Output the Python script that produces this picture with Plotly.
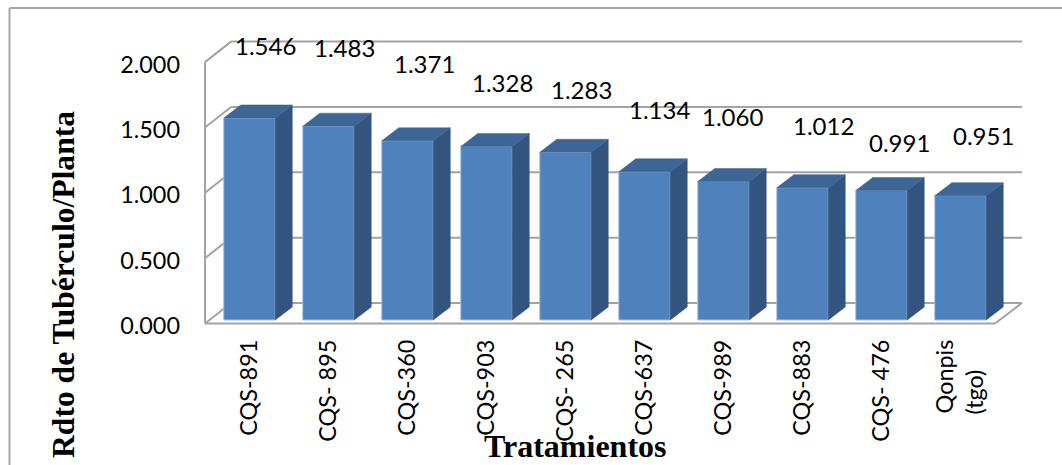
import plotly.graph_objects as go

# Yield per plant for each treatment
categories = ["CQS-891", "CQS- 895", "CQS-360", "CQS-903", "CQS- 265",
              "CQS-637", "CQS-989", "CQS-883", "CQS- 476", "Qonpis<br>(tgo)\u00a0\u00a0\u00a0\u00a0\u00a0"]
values = [1.546, 1.483, 1.371, 1.328, 1.283, 1.134, 1.060, 1.012, 0.991, 0.951]
y_ticks = [0.0, 0.5, 1.0, 1.5, 2.0]

# Hand-placed value labels: pixel shift from the top of each bar
label_dx = [16, 16, 17, 16, 16, 15, 9, 21, 18, 23]
label_dy = [72, 79, 77, 64, 63, 62, 65, 62, 48, 60]

# Layout of the plot area and the pseudo-3D projection, in data units
WIDTH, HEIGHT = 1062, 465
PX_X, PX_Y = 79.0, 130.7         # pixels per category / per unit
LEFT, RIGHT, TOP, BOTTOM = 195, 1032, 30, 330
ORIGIN_X, ORIGIN_Y = 249.5, 320  # pixel position of category 0, value 0
BAR_W = 0.652
DEPTH_X, DEPTH_Y = 17 / PX_X, 13 / PX_Y
WALL_FRONT_Y, WALL_BACK_Y = -0.027, 0.13
WALL_X0, WALL_X1 = -0.5633, 9.437
WALL_BACK_X0, WALL_BACK_X1 = -0.234, 9.7785

FONT = "Lato"
SERIF = "Liberation Serif"
GRID = "#a3a3a3"
FRONT, SIDE, ROOF = "#4f81bd", "#32547f", "#3d6595"

xs = list(range(len(values)))

fig = go.Figure()
fig.add_bar(x=xs, y=values, width=BAR_W,
            marker=dict(color=FRONT, line=dict(color="#a9c0de", width=1)),
            hoverinfo="skip", showlegend=False)


def faces(points_for):
    """Join per-bar polygons into one fillable outline list."""
    px, py = [], []
    for i, v in zip(xs, values):
        pts = points_for(i, v)
        px += [p[0] for p in pts] + [None]
        py += [p[1] for p in pts] + [None]
    return px, py


def side(i, v):
    r = i + BAR_W / 2
    return [(r, 0), (r + DEPTH_X, DEPTH_Y), (r + DEPTH_X, v + DEPTH_Y), (r, v), (r, 0)]


def roof(i, v):
    l, r = i - BAR_W / 2, i + BAR_W / 2
    return [(l, v), (l + DEPTH_X, v + DEPTH_Y), (r + DEPTH_X, v + DEPTH_Y), (r, v), (l, v)]


for shape_fn, colour in ((side, SIDE), (roof, ROOF)):
    px, py = faces(shape_fn)
    fig.add_scatter(x=px, y=py, mode="lines", fill="toself", fillcolor=colour,
                    line=dict(color=colour, width=0.5),
                    hoverinfo="skip", showlegend=False)

# Chart walls and floor sit underneath the bars
line = dict(color=GRID, width=2)
shapes = [dict(type="line", xref="x", yref="y", layer="below", line=line,
               x0=WALL_X0, x1=WALL_X0, y0=WALL_FRONT_Y, y1=y_ticks[-1] + WALL_FRONT_Y)]
for t in y_ticks:
    shapes.append(dict(type="line", xref="x", yref="y", layer="below", line=line,
                       x0=WALL_BACK_X0, x1=WALL_BACK_X1,
                       y0=t + WALL_BACK_Y, y1=t + WALL_BACK_Y))
    shapes.append(dict(type="line", xref="x", yref="y", layer="below", line=line,
                       x0=WALL_X0, x1=WALL_BACK_X0,
                       y0=t + WALL_FRONT_Y, y1=t + WALL_BACK_Y))
shapes.append(dict(type="line", xref="x", yref="y", layer="below", line=line,
                   x0=WALL_X0, x1=WALL_X1, y0=WALL_FRONT_Y, y1=WALL_FRONT_Y))
shapes.append(dict(type="line", xref="x", yref="y", layer="below", line=line,
                   x0=WALL_X1, x1=WALL_BACK_X1, y0=WALL_FRONT_Y, y1=WALL_BACK_Y))

# Outer chart frame: left and top edges only
frame = dict(color="#a6a6a6", width=2)
shapes.append(dict(type="line", xref="paper", yref="paper", line=frame,
                   x0=(9.5 - LEFT) / (RIGHT - LEFT), x1=(9.5 - LEFT) / (RIGHT - LEFT),
                   y0=(BOTTOM - HEIGHT) / (BOTTOM - TOP), y1=(BOTTOM - 8) / (BOTTOM - TOP)))
shapes.append(dict(type="line", xref="paper", yref="paper", line=frame,
                   x0=(9.5 - LEFT) / (RIGHT - LEFT), x1=(WIDTH - LEFT) / (RIGHT - LEFT),
                   y0=(BOTTOM - 8) / (BOTTOM - TOP), y1=(BOTTOM - 8) / (BOTTOM - TOP)))

annotations = [
    dict(x=i, y=v, xref="x", yref="y", text=f"{v:.3f}", showarrow=False,
         xshift=dx, yshift=dy, font=dict(family=FONT, size=24, color="#000000"))
    for i, v, dx, dy in zip(xs, values, label_dx, label_dy)
]
annotations.append(dict(
    x=(575 - LEFT) / (RIGHT - LEFT), y=(BOTTOM - 446) / (BOTTOM - TOP),
    xref="paper", yref="paper", xanchor="center", yanchor="middle",
    text="<b>Tratamientos</b>", showarrow=False,
    font=dict(family=SERIF, size=32, color="#000000")))
annotations.append(dict(
    x=(63 - LEFT) / (RIGHT - LEFT), y=(BOTTOM - 285) / (BOTTOM - TOP),
    xref="paper", yref="paper", xanchor="center", yanchor="middle",
    text="<b>Rdto de Tubérculo/Planta</b>", showarrow=False,
    textangle=-90, font=dict(family=SERIF, size=31.6, color="#000000")))

fig.update_layout(
    width=WIDTH, height=HEIGHT,
    margin=dict(l=LEFT, r=WIDTH - RIGHT, t=TOP, b=HEIGHT - BOTTOM, pad=0),
    paper_bgcolor="white", plot_bgcolor="white",
    shapes=shapes, annotations=annotations, showlegend=False,
    xaxis=dict(range=[(LEFT - ORIGIN_X) / PX_X, (RIGHT - ORIGIN_X) / PX_X],
               tickmode="array", tickvals=xs, ticktext=categories, tickangle=-90,
               ticklabelstandoff=4, ticks="", showgrid=False, zeroline=False, showline=False,
               tickfont=dict(family=FONT, size=23.4, color="#000000")),
    yaxis=dict(range=[(ORIGIN_Y - BOTTOM) / PX_Y, (ORIGIN_Y - TOP) / PX_Y],
               tickmode="array", tickvals=[t - 0.045 for t in y_ticks],
               ticktext=[f"{t:.3f}" for t in y_ticks],
               ticklabelstandoff=14, ticks="", showgrid=False, zeroline=False, showline=False,
               tickfont=dict(family=FONT, size=23.4, color="#000000")),
)

fig.write_html("out.html", config=dict(displayModeBar=False))
